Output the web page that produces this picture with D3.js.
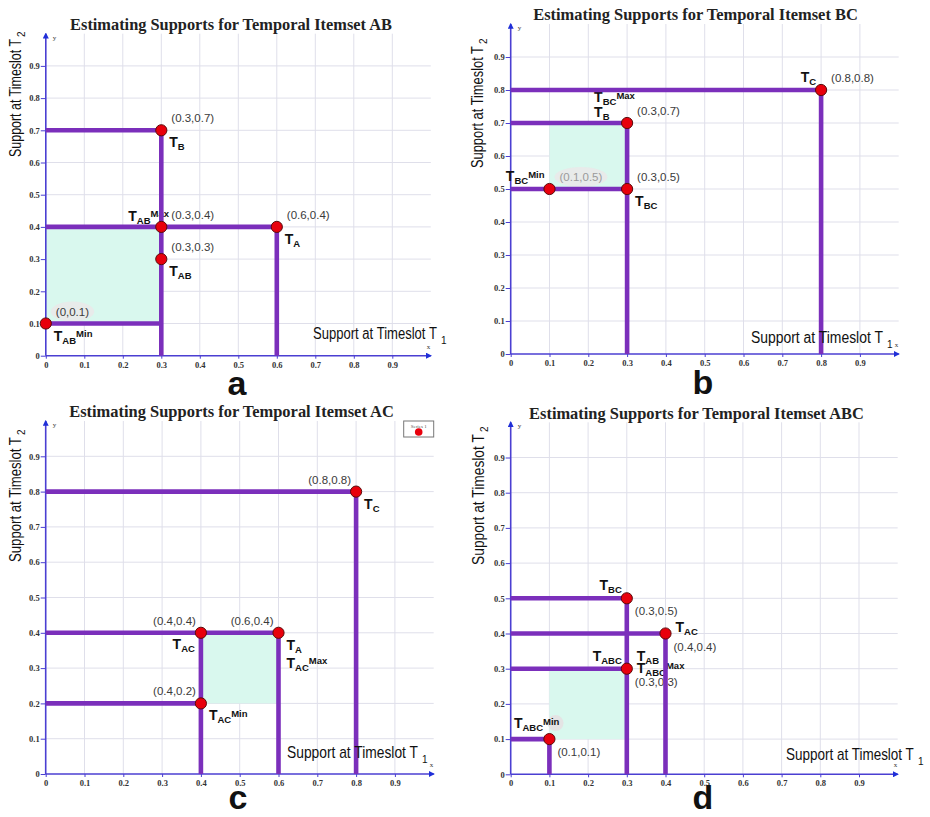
<!DOCTYPE html>
<html><head><meta charset="utf-8">
<script src="https://cdn.jsdelivr.net/npm/d3@7"></script>
<style>body{margin:0;background:#fff}svg{display:block}</style>
</head><body><svg id="c" width="930" height="817"></svg>
<script>
// ---------- data ----------
const tickValues = [0, 0.1, 0.2, 0.3, 0.4, 0.5, 0.6, 0.7, 0.8, 0.9];
const tickLabels = ["0", "0.1", "0.2", "0.3", "0.4", "0.5", "0.6", "0.7", "0.8", "0.9"];
const titles = [
  "Estimating Supports for Temporal Itemset AB",
  "Estimating Supports for Temporal Itemset BC",
  "Estimating Supports for Temporal Itemset AC",
  "Estimating Supports for Temporal Itemset ABC"
];
const panelLetters = ["a", "b", "c", "d"];
const yAxisTitle = ["Support at Timeslot T", "2"];
const xAxisTitle = ["Support at Timeslot T", "1"];

// panel a : itemset AB
const pointsAB = [[0.3, 0.7], [0.3, 0.4], [0.6, 0.4], [0.3, 0.3], [0, 0.1]];
const hLinesAB = [[0.7, 0, 0.3], [0.4, 0, 0.6], [0.1, 0, 0.3]];   // [y, x from, x to]
const vLinesAB = [[0.3, 0, 0.7], [0.6, 0, 0.4]];                  // [x, y from, y to]
const regionAB = [[0, 0.1], [0.3, 0.4]];
const labelsAB = [
  [0.3, 0.7, "(0.3,0.7)", "", "", "ne"],
  [0.3, 0.7, "T", "B", "", "se"],
  [0.3, 0.4, "T", "AB", "Max", "nwL"],
  [0.3, 0.4, "(0.3,0.4)", "", "", "ne"],
  [0.6, 0.4, "(0.6,0.4)", "", "", "ne"],
  [0.6, 0.4, "T", "A", "", "se"],
  [0.3, 0.3, "(0.3,0.3)", "", "", "ne"],
  [0.3, 0.3, "T", "AB", "", "se"],
  [0, 0.1, "(0,0.1)", "", "", "ne", "halo"],
  [0, 0.1, "T", "AB", "Min", "se"]
];

// panel b : itemset BC
const pointsBC = [[0.8, 0.8], [0.3, 0.7], [0.1, 0.5], [0.3, 0.5]];
const hLinesBC = [[0.8, 0, 0.8], [0.7, 0, 0.3], [0.5, 0, 0.3]];
const vLinesBC = [[0.8, 0, 0.8], [0.3, 0, 0.7]];
const regionBC = [[0.1, 0.5], [0.3, 0.7]];
const labelsBC = [
  [0.8, 0.8, "T", "C", "", "nw"],
  [0.8, 0.8, "(0.8,0.8)", "", "", "ne"],
  [0.3, 0.7, "T", "BC", "Max", "nwL2"],
  [0.3, 0.7, "T", "B", "", "nwL"],
  [0.3, 0.7, "(0.3,0.7)", "", "", "ne"],
  [0.1, 0.5, "T", "BC", "Min", "nw"],
  [0.1, 0.5, "(0.1,0.5)", "", "", "ne", "haloGray"],
  [0.3, 0.5, "(0.3,0.5)", "", "", "ne"],
  [0.3, 0.5, "T", "BC", "", "se"]
];

// panel c : itemset AC
const pointsAC = [[0.8, 0.8], [0.4, 0.4], [0.6, 0.4], [0.4, 0.2]];
const hLinesAC = [[0.8, 0, 0.8], [0.4, 0, 0.6], [0.2, 0, 0.4]];
const vLinesAC = [[0.8, 0, 0.8], [0.6, 0, 0.4], [0.4, 0, 0.4]];
const regionAC = [[0.4, 0.2], [0.6, 0.4]];
const labelsAC = [
  [0.8, 0.8, "(0.8,0.8)", "", "", "nw"],
  [0.8, 0.8, "T", "C", "", "se"],
  [0.4, 0.4, "(0.4,0.4)", "", "", "nw"],
  [0.4, 0.4, "T", "AC", "", "sw"],
  [0.6, 0.4, "(0.6,0.4)", "", "", "nw"],
  [0.6, 0.4, "T", "A", "", "se"],
  [0.6, 0.4, "T", "AC", "Max", "se2"],
  [0.4, 0.2, "(0.4,0.2)", "", "", "nw"],
  [0.4, 0.2, "T", "AC", "Min", "se"]
];
const legendAC = ["Series 1"];

// panel d : itemset ABC
const pointsABC = [[0.3, 0.5], [0.4, 0.4], [0.3, 0.3], [0.1, 0.1]];
const hLinesABC = [[0.5, 0, 0.3], [0.4, 0, 0.4], [0.3, 0, 0.3], [0.1, 0, 0.1]];
const vLinesABC = [[0.3, 0, 0.5], [0.4, 0, 0.4], [0.1, 0, 0.1]];
const regionABC = [[0.1, 0.1], [0.3, 0.3]];
const labelsABC = [
  [0.3, 0.5, "T", "BC", "", "nw"],
  [0.3, 0.5, "(0.3,0.5)", "", "", "se"],
  [0.4, 0.4, "T", "AC", "", "e"],
  [0.4, 0.4, "(0.4,0.4)", "", "", "se"],
  [0.3, 0.3, "T", "ABC", "", "nw"],
  [0.3, 0.3, "T", "AB", "", "ne"],
  [0.3, 0.3, "T", "ABC", "Max", "e2"],
  [0.3, 0.3, "(0.3,0.3)", "", "", "se"],
  [0.1, 0.1, "T", "ABC", "Min", "nnw", "halo"],
  [0.1, 0.1, "(0.1,0.1)", "", "", "se"]
];

// ---------- layout (pixels) ----------
const layout = [
  {x0: 45.8, x1: 430.8, y0: 355.7, y1: 33.7, title: [231, 29.5, 322], letter: [237, 395],
   yl: [21, 157, 118], xl: [313, 339, 124]},
  {x0: 510.7, x1: 898.7, y0: 354, y1: 24, title: [695.5, 19.5, 325], letter: [703, 394],
   yl: [483, 168, 122], xl: [751, 343, 132]},
  {x0: 45.7, x1: 433.7, y0: 774, y1: 421, title: [231.5, 416.5, 325], letter: [238, 809],
   yl: [20.5, 562, 125], xl: [287, 758, 131]},
  {x0: 510.7, x1: 897.7, y0: 774.3, y1: 422.3, title: [696.5, 418.5, 335], letter: [703, 809],
   yl: [484, 565, 131], xl: [786, 760, 128]}
];
const placement = {
  ne: [10, -8, "start"], se: [8, 17, "start"], se2: [8, 35, "start"],
  nw: [-5, -8, "end"], sw: [-6, 16, "end"],
  nwL: [-33, -6, "start"], nwL2: [-33, -21, "start"],
  e: [10, -2, "start"], e2: [10, 4, "start"], nnw: [10, -11, "end"]
};

const panels = [
  {pts: pointsAB, h: hLinesAB, v: vLinesAB, reg: regionAB, labels: labelsAB, legend: []},
  {pts: pointsBC, h: hLinesBC, v: vLinesBC, reg: regionBC, labels: labelsBC, legend: []},
  {pts: pointsAC, h: hLinesAC, v: vLinesAC, reg: regionAC, labels: labelsAC, legend: legendAC},
  {pts: pointsABC, h: hLinesABC, v: vLinesABC, reg: regionABC, labels: labelsABC, legend: []}
];

const PURPLE = "#7b2fbb", RED = "#e8000c", AXIS = "#4b3fd2", GRID = "#dfdfea", SHADE = "#d9f8ee";
const SANS = "Liberation Sans, Arial, sans-serif", SERIF = "Liberation Serif, Times New Roman, serif";

const svg = d3.select("#c");
const defs = svg.append("defs");
defs.append("marker").attr("id", "arr").attr("viewBox", "0 0 10 10").attr("refX", 8).attr("refY", 5)
  .attr("markerWidth", 6).attr("markerHeight", 6).attr("orient", "auto-start-reverse").attr("markerUnits", "userSpaceOnUse")
  .append("path").attr("d", "M0,0L10,5L0,10Z").attr("fill", "#1f2fd8");

// text squeezed horizontally (in its own frame) to a target width, via a scale transform
function fitted(parent, str, px, py, rot, width, attrs) {
  const gg = parent.append("g");
  const t = gg.append("text").text(str);
  Object.entries(attrs).forEach(([k, v]) => t.attr(k, v));
  const nat = t.node().getComputedTextLength();
  const s = width / nat;
  gg.attr("transform", `translate(${px},${py}) rotate(${rot}) scale(${s},1)`);
  return gg;
}

panels.forEach((P, i) => {
  const L = layout[i];
  const g = svg.append("g");
  const x = d3.scaleLinear().domain([0, 1]).range([L.x0, L.x1]);
  const y = d3.scaleLinear().domain([0, 1]).range([L.y0, L.y1]);

  // grid
  g.append("g").selectAll("line").data(tickValues.slice(1)).join("line")
    .attr("x1", d => x(d)).attr("x2", d => x(d)).attr("y1", y(0)).attr("y2", y(1))
    .attr("stroke", GRID).attr("stroke-width", 1);
  g.append("g").selectAll("line").data(tickValues.slice(1)).join("line")
    .attr("y1", d => y(d)).attr("y2", d => y(d)).attr("x1", x(0)).attr("x2", x(1))
    .attr("stroke", GRID).attr("stroke-width", 1);

  // shaded region
  g.append("rect").attr("x", x(P.reg[0][0])).attr("y", y(P.reg[1][1]))
    .attr("width", x(P.reg[1][0]) - x(P.reg[0][0])).attr("height", y(P.reg[0][1]) - y(P.reg[1][1]))
    .attr("fill", SHADE);

  // axes
  const fmt = (d) => tickLabels[tickValues.indexOf(d)];
  const ax = g.append("g").attr("transform", `translate(0,${y(0)})`)
    .call(d3.axisBottom(x).tickValues(tickValues).tickFormat(fmt).tickSize(3).tickSizeOuter(0).tickPadding(3));
  const ay = g.append("g").attr("transform", `translate(${x(0)},0)`)
    .call(d3.axisLeft(y).tickValues(tickValues).tickFormat(fmt).tickSize(5).tickSizeOuter(0).tickPadding(1));
  [ax, ay].forEach(a => {
    a.select(".domain").remove();
    a.selectAll(".tick line").attr("stroke", AXIS).attr("stroke-width", 1);
    a.selectAll(".tick text").attr("fill", "#333").attr("font-family", SERIF)
      .attr("font-weight", "bold").attr("font-size", 8.5);
  });
  g.append("line").attr("x1", x(0)).attr("x2", x(1)).attr("y1", y(0)).attr("y2", y(0))
    .attr("stroke", AXIS).attr("stroke-width", 1.6).attr("marker-end", "url(#arr)");
  g.append("line").attr("x1", x(0)).attr("x2", x(0)).attr("y1", y(0)).attr("y2", y(1))
    .attr("stroke", AXIS).attr("stroke-width", 1.6).attr("marker-end", "url(#arr)");
  g.append("text").attr("x", x(0) + 7).attr("y", y(1) + 6).text("y")
    .attr("font-family", SERIF).attr("font-size", 7).attr("fill", "#333");
  g.append("text").attr("x", x(1) - 4).attr("y", y(0) - 7).text("x")
    .attr("font-family", SERIF).attr("font-size", 7).attr("fill", "#333");

  // labels (under the lines)
  const lg = g.append("g");
  P.labels.forEach(lb => {
    const [vx, vy, main, sub, sup, pos, halo] = lb;
    const [dx, dy, anchor] = placement[pos];
    const isCoord = main.startsWith("(");
    const t = lg.append("text").attr("x", x(vx) + dx).attr("y", y(vy) + dy)
      .attr("text-anchor", anchor).attr("font-family", SANS);
    if (isCoord) {
      t.attr("font-size", 11.5).attr("fill", halo === "haloGray" ? "#9a9a9a" : "#3a3a3a").text(main);
    } else {
      t.attr("font-weight", "bold").attr("fill", "#111");
      t.append("tspan").attr("font-size", 14).text(main);
      if (sub) t.append("tspan").attr("font-size", 9.5).attr("dy", 3).text(sub);
      if (sup) t.append("tspan").attr("font-size", 9.5).attr("dy", sub ? -6.5 : -3.5).text(sup);
    }
    if (halo) {
      const bb = t.node().getBBox();
      if (isCoord) {
        lg.insert("ellipse", () => t.node()).attr("cx", bb.x + bb.width / 2).attr("cy", bb.y + bb.height / 2)
          .attr("rx", bb.width / 2 + 5).attr("ry", bb.height / 2 + 4).attr("fill", "#e9e9e9").attr("opacity", 0.9);
      } else {
        lg.insert("circle", () => t.node()).attr("cx", bb.x + bb.width - 4).attr("cy", bb.y + bb.height / 2 - 1)
          .attr("r", 8).attr("fill", "#e4e4e4");
      }
    }
  });

  // purple lines
  g.append("g").selectAll("line").data(P.h).join("line")
    .attr("x1", d => x(d[1])).attr("x2", d => x(d[2])).attr("y1", d => y(d[0])).attr("y2", d => y(d[0]))
    .attr("stroke", PURPLE).attr("stroke-width", 4.6);
  g.append("g").selectAll("line").data(P.v).join("line")
    .attr("y1", d => y(d[1])).attr("y2", d => y(d[2])).attr("x1", d => x(d[0])).attr("x2", d => x(d[0]))
    .attr("stroke", PURPLE).attr("stroke-width", 4.6);

  // points
  g.append("g").selectAll("circle").data(P.pts).join("circle")
    .attr("cx", d => x(d[0])).attr("cy", d => y(d[1])).attr("r", 5.6)
    .attr("fill", RED).attr("stroke", "#5a0a0a").attr("stroke-width", 1);

  // legend
  if (P.legend.length) {
    const lgd = g.append("g");
    lgd.append("rect").attr("x", x(1) - 30).attr("y", y(1)).attr("width", 30).attr("height", 16)
      .attr("fill", "#fff").attr("stroke", "#777").attr("stroke-width", 1);
    lgd.append("text").attr("x", x(1) - 15).attr("y", y(1) + 7).attr("text-anchor", "middle")
      .attr("font-family", SERIF).attr("font-size", 5).attr("fill", "#555").text(P.legend[0]);
    lgd.append("circle").attr("cx", x(1) - 15).attr("cy", y(1) + 11).attr("r", 3.8).attr("fill", RED);
  }

  // title
  fitted(svg, titles[i], L.title[0], L.title[1], 0, L.title[2],
    {"text-anchor": "middle", "font-family": SERIF, "font-weight": "bold", "font-size": 16.5, fill: "#222"});

  // panel letter
  svg.append("text").attr("x", L.letter[0]).attr("y", L.letter[1]).attr("text-anchor", "middle")
    .attr("font-family", SANS).attr("font-weight", "bold").attr("font-size", 34).attr("fill", "#111")
    .text(panelLetters[i]);

  // y axis title (rotated)
  fitted(svg, yAxisTitle[0], L.yl[0], L.yl[1], -90, L.yl[2],
    {"font-family": SANS, "font-size": 16.5, fill: "#111"});
  svg.append("text").attr("transform", `translate(${L.yl[0] + 4},${L.yl[1] - L.yl[2] - 2}) rotate(-90)`)
    .attr("font-family", SANS).attr("font-size", 10).attr("fill", "#111").text(yAxisTitle[1]);

  // x axis title
  fitted(svg, xAxisTitle[0], L.xl[0], L.xl[1], 0, L.xl[2],
    {"font-family": SANS, "font-size": 16, fill: "#111"});
  svg.append("text").attr("x", L.xl[0] + L.xl[2] + 4).attr("y", L.xl[1] + 5).attr("font-family", SANS).attr("font-size", 10).attr("fill", "#111")
    .text(xAxisTitle[1]);
});
</script>
</body></html>
